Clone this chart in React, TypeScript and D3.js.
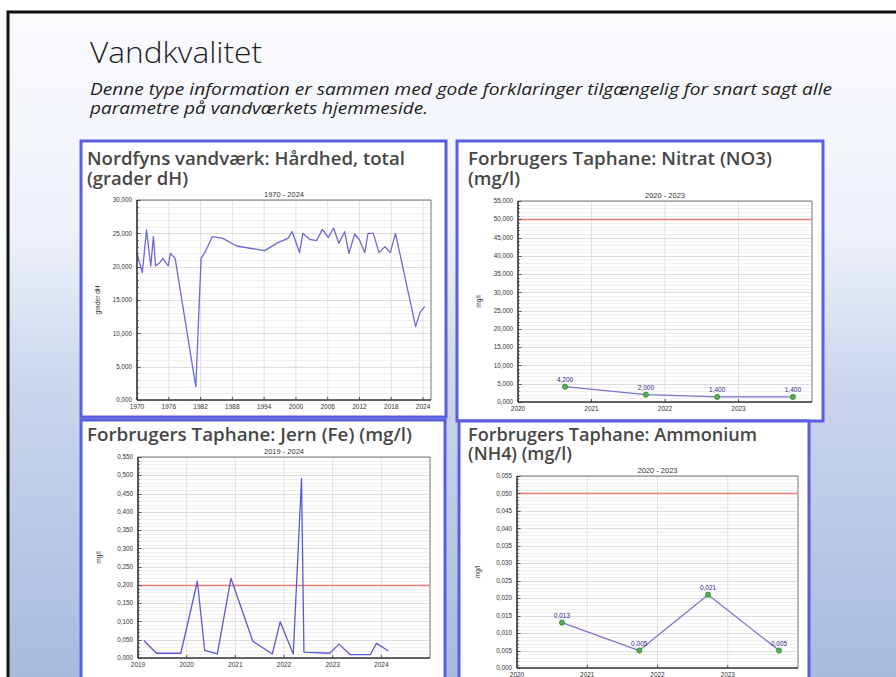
import React from "react";
import * as d3 from "d3";

// ---------- DATA ----------
const hardYears = [1970.0, 1971.0, 1971.8, 1972.6, 1973.1, 1973.5, 1974.3, 1974.9, 1975.9, 1976.3, 1977.2, 1981.1, 1982.1, 1982.9, 1984.2, 1986.2, 1988.8, 1994.1, 1996.6, 1998.5, 1999.3, 2000.7, 2001.3, 2002.6, 2003.9, 2005.0, 2006.1, 2007.1, 2008.1, 2009.2, 2010.0, 2011.1, 2012.0, 2013.0, 2013.6, 2014.6, 2015.7, 2016.8, 2017.8, 2018.8, 2022.6, 2023.4, 2024.3];
const hardValues = [22.0, 19.1, 25.5, 20.1, 24.5, 20.1, 20.6, 21.25, 20.1, 22.0, 21.25, 2.0, 21.25, 22.25, 24.5, 24.25, 23.1, 22.4, 23.6, 24.25, 25.25, 22.1, 25.0, 24.1, 23.9, 25.6, 24.4, 25.8, 23.5, 25.25, 22.0, 24.9, 24.0, 22.1, 25.0, 25.0, 22.1, 23.0, 22.1, 25.0, 11.0, 13.1, 14.0];
const hardXTicks = [1970, 1976, 1982, 1988, 1994, 2000, 2006, 2012, 2018, 2024];

const nitratYears = [2020.64, 2021.74, 2022.71, 2023.74];
const nitratValues = [4.2, 2.0, 1.4, 1.4];
const nitratXTicks = [2020, 2021, 2022, 2023];

const jernYears = [2019.12, 2019.38, 2019.88, 2020.22, 2020.37, 2020.63, 2020.91, 2021.36, 2021.76, 2021.92, 2022.19, 2022.36, 2022.41, 2022.94, 2023.13, 2023.36, 2023.77, 2023.9, 2024.14];
const jernValues = [0.048, 0.013, 0.013, 0.21, 0.021, 0.011, 0.218, 0.046, 0.011, 0.099, 0.011, 0.491, 0.016, 0.013, 0.038, 0.009, 0.009, 0.04, 0.02];
const jernXTicks = [2019, 2020, 2021, 2022, 2023, 2024];

const ammYears = [2020.64, 2021.74, 2022.72, 2023.73];
const ammValues = [0.013, 0.005, 0.021, 0.005];
const ammXTicks = [2020, 2021, 2022, 2023];

const loc = d3.formatLocale({ decimal: ",", thousands: ".", grouping: [3], currency: ["", ""] });
const fmt3 = loc.format(".3f");

const TICK_FONT = "'Liberation Sans', Arial, sans-serif";
const TITLE_FONT = "'Open Sans', 'Noto Sans', sans-serif";

type ChartProps = {
  x0: number; x1: number; y0: number; y1: number;
  xDomain: [number, number];
  yMax: number; yStep: number;
  xTicks: number[];
  years: number[]; values: number[];
  limit?: number;
  markers?: boolean;
  subtitle: string; yLabel: string;
  lineColor: string;
};

function Chart(p: ChartProps) {
  const x = d3.scaleLinear().domain(p.xDomain).range([p.x0, p.x1]);
  const y = d3.scaleLinear().domain([0, p.yMax]).range([p.y1, p.y0]);
  const sy = (v: number) => Math.round(y(v)) + 0.5;
  const nMaj = Math.round(p.yMax / p.yStep);
  const majors = d3.range(0, nMaj + 1).map((i) => i * p.yStep);
  const minors = d3.range(0, nMaj * 5 + 1).filter((i) => i % 5 !== 0).map((i) => (i * p.yStep) / 5);
  const pts: [number, number][] = p.years.map((yr, i) => [yr, p.values[i]]);
  const line = d3.line<[number, number]>().x((d) => x(d[0])).y((d) => y(d[1]));
  const midX = (p.x0 + p.x1) / 2;
  const midY = (p.y0 + p.y1) / 2;
  const limitMajor = p.limit !== undefined ? Math.round(p.limit / p.yStep) : -1;
  return (
    <g>
      <rect x={p.x0} y={p.y0} width={p.x1 - p.x0} height={p.y1 - p.y0} fill="#fff" />
      {minors.map((v, i) => (
        <line key={"mi" + i} x1={p.x0} x2={p.x1} y1={sy(v)} y2={sy(v)} stroke="#ececec" strokeWidth={0.8} />
      ))}
      {majors.map((v, i) => (i === limitMajor ? null : (
        <line key={"ma" + i} x1={p.x0} x2={p.x1} y1={sy(v)} y2={sy(v)} stroke="#d4d4d4" strokeWidth={0.8} />
      )))}
      {p.xTicks.map((t, i) => (
        <line key={"vx" + i} x1={x(t)} x2={x(t)} y1={p.y0} y2={p.y1} stroke="#dadada" strokeWidth={0.8} />
      ))}
      {p.limit !== undefined && (
        <rect x={p.x0 + 1} y={Math.round(y(p.limit)) - 0.3} width={p.x1 - p.x0 - 1.5} height={1.6} fill="#ee7f7f" />
      )}
      <path d={line(pts) || ""} fill="none" stroke={p.lineColor} strokeWidth={1.3} strokeLinejoin="round" />
      {/* frame */}
      <line x1={p.x0} x2={p.x1} y1={p.y0} y2={p.y0} stroke="#777" strokeWidth={1} />
      <line x1={p.x1} x2={p.x1} y1={p.y0} y2={p.y1} stroke="#777" strokeWidth={1} />
      <line x1={p.x0} x2={p.x0} y1={p.y0} y2={p.y1} stroke="#333" strokeWidth={1.6} />
      <line x1={p.x0} x2={p.x1} y1={p.y1} y2={p.y1} stroke="#333" strokeWidth={1.6} />
      {minors.map((v, i) => (
        <line key={"mt" + i} x1={p.x0} x2={p.x0 + 2} y1={sy(v)} y2={sy(v)} stroke="#444" strokeWidth={0.6} />
      ))}
      {majors.map((v, i) => (
        <g key={"yl" + i}>
          <line x1={p.x0} x2={p.x0 + 3.5} y1={sy(v)} y2={sy(v)} stroke="#333" strokeWidth={0.8} />
          <text x={p.x0 - 5} y={y(v) + 2.2} textAnchor="end" fontSize={6.3} fontFamily={TICK_FONT} fill="#333">{fmt3(v)}</text>
        </g>
      ))}
      {p.markers && pts.map((d, i) => (
        <g key={"pt" + i}>
          <circle cx={x(d[0])} cy={y(d[1])} r={2.6} fill="#55b055" stroke="#2f7a2f" strokeWidth={0.7} />
          <text x={x(d[0])} y={y(d[1]) - 5} textAnchor="middle" fontSize={6.5} fontFamily={TICK_FONT} fill="#2a2a8a">{fmt3(d[1])}</text>
        </g>
      ))}
      {p.xTicks.map((t, i) => (
        <g key={"xl" + i}>
          <line x1={x(t)} x2={x(t)} y1={p.y1} y2={p.y1 - 3} stroke="#333" strokeWidth={0.8} />
          <text x={x(t)} y={p.y1 + 9} textAnchor="middle" fontSize={6.5} fontFamily={TICK_FONT} fill="#333">{t}</text>
        </g>
      ))}
      <text x={midX} y={p.y0 - 3.5} textAnchor="middle" fontSize={7.5} fontFamily={TICK_FONT} fill="#333">{p.subtitle}</text>
      <text transform={`translate(${p.x0 - 37},${midY}) rotate(-90)`} textAnchor="middle" fontSize={6.5} fontFamily={TICK_FONT} fill="#333">{p.yLabel}</text>
    </g>
  );
}

function Panel({ x, y, w, h }: { x: number; y: number; w: number; h: number }) {
  return <rect x={x} y={y} width={w} height={h} fill="#fff" stroke="#5a5fe0" strokeWidth={3} />;
}

function PTitle({ x, y, text, len }: { x: number; y: number; text: string; len: number }) {
  return (
    <text x={x} y={y} fontSize={18} fontWeight={600} fontFamily={TITLE_FONT} fill="#474747" textLength={len} lengthAdjust="spacingAndGlyphs">{text}</text>
  );
}

export default function App() {
  return (
    <div style={{ position: "fixed", left: 0, top: 0, width: 896, height: 677, overflow: "hidden" }}>
      <svg width={896} height={677} style={{ display: "block" }}>
        <defs>
          <linearGradient id="bg" x1="0" y1="0" x2="0" y2="1">
            <stop offset="0" stopColor="#fafbfd" />
            <stop offset="0.32" stopColor="#eef2f9" />
            <stop offset="0.55" stopColor="#cbd6ed" />
            <stop offset="1" stopColor="#a6badf" />
          </linearGradient>
        </defs>
        <rect x={0} y={0} width={896} height={677} fill="#ffffff" />
        <rect x={8} y={12} width={900} height={680} fill="url(#bg)" stroke="#111" strokeWidth={3} />

        <text x={90} y={63} fontSize={30} fontWeight={300} fontFamily={TITLE_FONT} fill="#1e1e1e" textLength={172} lengthAdjust="spacingAndGlyphs">Vandkvalitet</text>
        <text x={90} y={95} fontSize={15.5} fontStyle="italic" fontFamily={TITLE_FONT} fill="#1e1e1e" textLength={742} lengthAdjust="spacingAndGlyphs">Denne type information er sammen med gode forklaringer tilgængelig for snart sagt alle</text>
        <text x={90} y={114} fontSize={15.5} fontStyle="italic" fontFamily={TITLE_FONT} fill="#1e1e1e" textLength={338} lengthAdjust="spacingAndGlyphs">parametre på vandværkets hjemmeside.</text>

        <Panel x={81} y={141} w={365} h={276} />
        <Panel x={457} y={141} w={366} h={280} />
        <Panel x={81} y={420} w={364} h={262} />
        <Panel x={459} y={421} w={350} h={262} />

        <PTitle x={87} y={165} text="Nordfyns vandværk: Hårdhed, total" len={318} />
        <PTitle x={87} y={185} text="(grader dH)" len={101} />
        <Chart x0={137} x1={431} y0={200} y1={400} xDomain={[1970, 2025.5]} yMax={30} yStep={5}
          xTicks={hardXTicks} years={hardYears} values={hardValues} subtitle="1970 - 2024" yLabel="grader dH" lineColor="#6a6ad6" />

        <PTitle x={468} y={165} text="Forbrugers Taphane: Nitrat (NO3)" len={304} />
        <PTitle x={468} y={185} text="(mg/l)" len={52} />
        <Chart x0={518} x1={812} y0={201} y1={402} xDomain={[2020, 2024]} yMax={55} yStep={5}
          xTicks={nitratXTicks} years={nitratYears} values={nitratValues} limit={50} markers subtitle="2020 - 2023" yLabel="mg/l" lineColor="#7474cc" />

        <PTitle x={87} y={441} text="Forbrugers Taphane: Jern (Fe) (mg/l)" len={325} />
        <Chart x0={138} x1={430} y0={457} y1={658} xDomain={[2019, 2025]} yMax={0.55} yStep={0.05}
          xTicks={jernXTicks} years={jernYears} values={jernValues} limit={0.2} subtitle="2019 - 2024" yLabel="mg/l" lineColor="#5a5ad2" />

        <PTitle x={468} y={441} text="Forbrugers Taphane: Ammonium" len={289} />
        <PTitle x={468} y={460} text="(NH4) (mg/l)" len={104} />
        <Chart x0={517} x1={798} y0={476} y1={668} xDomain={[2020, 2024]} yMax={0.055} yStep={0.005}
          xTicks={ammXTicks} years={ammYears} values={ammValues} limit={0.05} markers subtitle="2020 - 2023" yLabel="mg/l" lineColor="#7a7ac8" />
      </svg>
    </div>
  );
}
